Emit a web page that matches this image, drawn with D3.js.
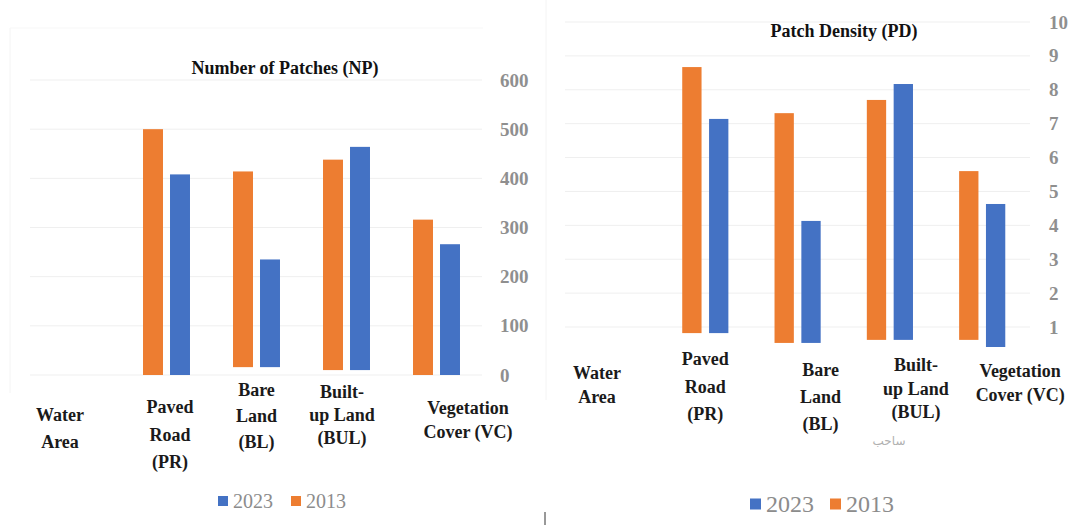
<!DOCTYPE html>
<html>
<head>
<meta charset="utf-8">
<script src="https://cdn.jsdelivr.net/npm/d3@7"></script>
<style>
  body { margin: 0; background: #fff; }
  svg { display: block; }
</style>
</head>
<body>
<div id="chart"></div>
<script>
// categories shared by both panels
var categories = ["Water Area", "Paved Road (PR)", "Bare Land (BL)", "Built-up Land (BUL)", "Vegetation Cover (VC)"];
var categoryLines = [["Water", "Area"], ["Paved", "Road", "(PR)"], ["Bare", "Land", "(BL)"], ["Built-", "up Land", "(BUL)"], ["Vegetation", "Cover (VC)"]];
var seriesNames = ["2013", "2023"];
var legendOrder = ["2023", "2013"];

// Number of Patches (NP)
var np2013 = [0, 500, 414, 438, 316];
var np2023 = [0, 408, 235, 464, 266];
var npBase = [0, 0, 16, 10, 0];
var npTicks = [0, 100, 200, 300, 400, 500, 600];

// Patch Density (PD)
var pd2013 = [0, 8.67, 7.31, 7.70, 5.60];
var pd2023 = [0, 7.14, 4.13, 8.17, 4.63];
var pdBase2013 = [0, 0.82, 0.53, 0.62, 0.62];
var pdBase2023 = [0, 0.82, 0.53, 0.62, 0.41];
var pdTicks = [1, 2, 3, 4, 5, 6, 7, 8, 9, 10];

var colors = { "2013": "#ED7D31", "2023": "#4472C4" };
var serif = "Liberation Serif";

var svg = d3.select("#chart").append("svg")
  .attr("width", 1072)
  .attr("height", 525)
  .attr("font-family", serif);

// faint frame left over from the original layout
svg.append("line").attr("x1", 10).attr("x2", 10).attr("y1", 28).attr("y2", 393).attr("stroke", "#f4f4f4");
svg.append("line").attr("x1", 10).attr("x2", 483).attr("y1", 28).attr("y2", 28).attr("stroke", "#f7f7f7");
svg.append("line").attr("x1", 546).attr("x2", 546).attr("y1", 0).attr("y2", 400).attr("stroke", "#f4f4f4");
svg.append("line").attr("x1", 545).attr("x2", 545).attr("y1", 512).attr("y2", 525).attr("stroke", "#333");

// draws one grouped bar panel
function drawPanel(p) {
  var g = svg.append("g");

  var x0 = d3.scaleBand().domain(categories).range(p.xRange)
    .paddingInner(p.groupPad).paddingOuter(p.groupPad / 2);
  var x1 = d3.scaleBand().domain(seriesNames).range([0, x0.bandwidth()]).paddingInner(p.barPad);
  var y = d3.scaleLinear().domain(p.yDomain).range(p.yRange);

  // gridlines
  g.selectAll(".grid").data(p.ticks).enter().append("line")
    .attr("class", "grid")
    .attr("x1", p.gridX[0]).attr("x2", p.gridX[1])
    .attr("y1", d => y(d)).attr("y2", d => y(d))
    .attr("stroke", "#efefef").attr("stroke-width", 1);

  // right axis labels
  var axis = d3.axisRight(y).tickValues(p.ticks).tickSize(0).tickPadding(0);
  var ax = g.append("g").attr("transform", `translate(${p.axisX},0)`).call(axis);
  ax.select(".domain").remove();
  ax.attr("font-family", serif).attr("font-size", p.tickSize);
  ax.selectAll("text")
    .attr("font-weight", "bold")
    .attr("fill", "#8f8f8f");

  // bars
  var rows = [];
  categories.forEach((c, i) => {
    seriesNames.forEach(s => {
      rows.push({ cat: c, s: s, v: p.values[s][i], base: p.base[s][i] });
    });
  });
  g.selectAll(".bar").data(rows).enter().append("rect")
    .attr("class", "bar")
    .attr("x", d => x0(d.cat) + x1(d.s))
    .attr("width", x1.bandwidth())
    .attr("y", d => y(Math.max(d.v, d.base)))
    .attr("height", d => Math.max(0, y(d.base) - y(d.v)))
    .attr("fill", d => colors[d.s]);

  // title
  g.append("text")
    .attr("x", p.title.x).attr("y", p.title.y)
    .attr("text-anchor", "middle").attr("dy", "0.35em")
    .attr("font-family", serif)
    .attr("font-size", p.title.size).attr("font-weight", "bold").attr("fill", "#111")
    .text(p.title.text);

  // category labels, several lines each
  var lbl = g.selectAll(".cat").data(categories).enter().append("text")
    .attr("class", "cat")
    .attr("text-anchor", "middle")
    .attr("font-family", serif)
    .attr("font-size", p.labelSize).attr("font-weight", "bold").attr("fill", "#1a1a1a");
  lbl.each(function (d, i) {
    var t = d3.select(this);
    var cx = x0(d) + x0.bandwidth() / 2 + p.labels[i][0];
    categoryLines[i].forEach((line, j) => {
      t.append("tspan")
        .attr("x", cx)
        .attr("y", p.labels[i][1] + j * p.labels[i][2])
        .attr("dy", "0.35em")
        .text(line);
    });
  });

  // legend
  var lg = g.append("g").attr("transform", `translate(${p.legend.x},${p.legend.y})`);
  var lgItem = lg.selectAll(".lg").data(legendOrder).enter().append("g")
    .attr("class", "lg")
    .attr("transform", (d, i) => `translate(${i * p.legend.step},0)`);
  lgItem.append("rect")
    .attr("x", 0).attr("y", -p.legend.box / 2)
    .attr("width", p.legend.box).attr("height", p.legend.box)
    .attr("fill", d => colors[d]);
  lgItem.append("text")
    .attr("x", p.legend.box + 5).attr("dy", "0.35em")
    .attr("font-family", serif)
    .attr("font-size", p.legend.size).attr("fill", "#8c8c8c")
    .text(d => d);

  return { x0: x0, y: y };
}

drawPanel({
  xRange: [31.5, 481.5], groupPad: 0.478, barPad: 0.26,
  yDomain: [0, 600], yRange: [375, 80],
  gridX: [30, 482], axisX: 500, ticks: npTicks, tickSize: 19,
  values: { "2013": np2013, "2023": np2023 },
  base: { "2013": npBase, "2023": npBase },
  title: { text: "Number of Patches (NP)", x: 285, y: 68, size: 18 },
  labelSize: 18,
  // [dx from band centre, first line y, line step]
  labels: [[-16.5, 415, 27], [3.5, 407, 27.5], [0, 390, 26], [-4.5, 392, 23], [31.5, 408, 24]],
  legend: { x: 218, y: 501, box: 10, step: 73, size: 20 }
});

drawPanel({
  xRange: [566.85, 1028.35], groupPad: 0.5, barPad: 0.28,
  yDomain: [1, 10], yRange: [327, 22],
  gridX: [565, 1030], axisX: 1049, ticks: pdTicks, tickSize: 19,
  values: { "2013": pd2013, "2023": pd2023 },
  base: { "2013": pdBase2013, "2023": pdBase2023 },
  title: { text: "Patch Density (PD)", x: 844, y: 31, size: 18 },
  labelSize: 18,
  labels: [[-16, 373, 24], [0, 359, 27.5], [23, 370, 27], [26, 365, 23.5], [38, 371, 24]],
  legend: { x: 750, y: 504, box: 11, step: 80, size: 24 }
});

// stray Arabic watermark text under the right panel
svg.append("text")
  .attr("x", 889).attr("y", 441).attr("dy", "0.35em")
  .attr("text-anchor", "middle")
  .attr("font-family", "DejaVu Sans, Noto Sans, sans-serif")
  .attr("font-size", 12).attr("fill", "#b0b0b0")
  .text("ساحب");
</script>
</body>
</html>
